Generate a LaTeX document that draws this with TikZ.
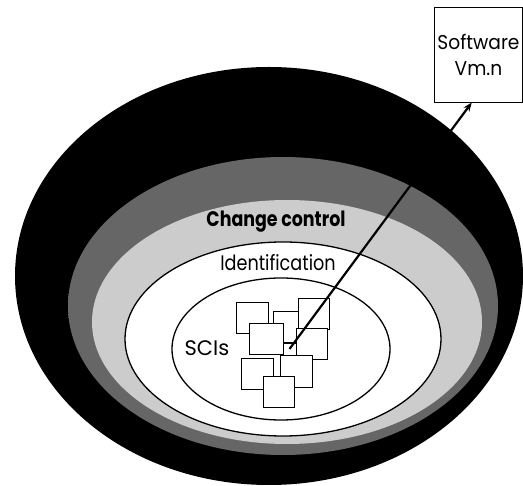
\documentclass[tikz,border=0pt]{standalone}
\usepackage{fontspec}
\setmainfont{Poppins}
\usetikzlibrary{arrows.meta,calc}
\pgfdeclareradialshading{ringshade}{\pgfpoint{0bp}{0bp}}{%
  color(0bp)=(black!60); color(42bp)=(black!60); color(50bp)=(black!95)}
\begin{document}
\begin{tikzpicture}[x=1pt,y=-1pt,
  sci/.style={draw,fill=white,line width=0.9pt,inner sep=0pt,minimum width=32pt,minimum height=31pt},
  ring/.style={line width=1.3pt},
  lbl/.style={inner sep=0pt,font=\fontsize{21}{22}\selectfont}]
\useasboundingbox (0,0) rectangle (523,486);
% layers
\fill[black] (269,276) ellipse [x radius=254pt,y radius=209pt];
\shade[shading=ringshade] (283,306) ellipse [x radius=215pt,y radius=149pt];
\fill[black!20] (287,322) ellipse [x radius=195pt,y radius=122pt];
\draw[ring,fill=white] (283,339) ellipse [x radius=158pt,y radius=97pt];
\draw[ring] (281,349) ellipse [x radius=109pt,y radius=71pt];
% labels
\node[lbl,font=\fontsize{21}{22}\selectfont\bfseries] (cc) at (276,222) {\scalebox{0.83}[1]{Change control}};
\node[lbl] (id) at (278,263) {\scalebox{0.84}[1]{Identification}};
\node[lbl] (scis) at (207,348) {SCIs};
% SCIs
\node[sci] (a) at (252,317.5) {};
\node[sci] (c) at (289,327) {};
\node[sci,minimum width=31pt] (d) at (313.5,313.5) {};
\node[sci,minimum width=31pt] (e) at (311.5,343.5) {};
\node[sci,minimum width=13pt,minimum height=12pt] (f) at (289.5,349) {};
\node[sci,minimum width=34pt] (b) at (266,338.5) {};
\node[sci,minimum height=32pt] (g) at (296,371) {};
\node[sci] (h) at (257,373.5) {};
\node[sci,minimum width=31pt] (i) at (278.5,391.5) {};
% software box
\node[draw,fill=white,line width=0.9pt,minimum width=87pt,minimum height=95pt,align=center,
      font=\fontsize{20}{26}\selectfont] (sw) at (478.5,54.5)
      {\scalebox{0.93}[1]{Software}\\\scalebox{0.93}[1]{Vm.n}};
% arrow
\draw[line width=2.2pt,-{Stealth[length=9pt,width=7pt]}] (f.center) -- ($(sw.south west)!0.425!(sw.south east)$);
\end{tikzpicture}
\end{document}
